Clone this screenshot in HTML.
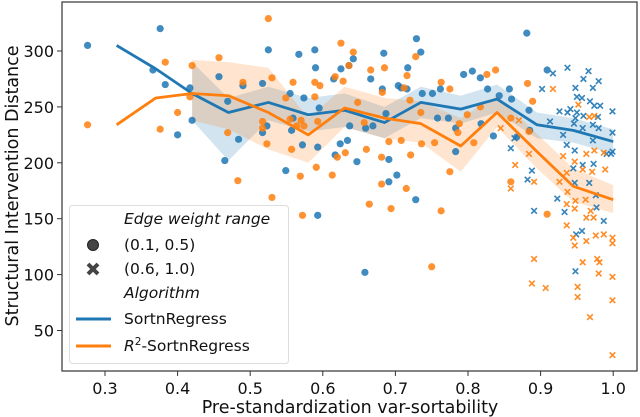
<!DOCTYPE html>
<html><head><meta charset="utf-8"><style>
body{margin:0;background:#fff;}
svg{display:block;font-family:"DejaVu Sans","Liberation Sans",sans-serif;}
</style></head><body>
<svg id="chart" width="640" height="417" viewBox="0 0 640 417">
<g id="bands"></g>
<g id="pts"></g>
<g id="lines"></g>
<rect x="62" y="2" width="575" height="369" fill="none" stroke="#333" stroke-width="1.2"/>
<g id="axes"></g>
<text x="350" y="413" font-size="17.5" text-anchor="middle" fill="#111">Pre-standardization var-sortability</text>
<text transform="translate(18,186) rotate(-90)" font-size="17.5" text-anchor="middle" fill="#111">Structural Intervention Distance</text>
<g>
<rect x="69.5" y="205.5" width="219" height="158" rx="3" fill="#fff" fill-opacity="0.8" stroke="#ddd"/>
<text x="124" y="224" font-size="15.5" font-style="italic" fill="#111">Edge weight range</text>
<circle cx="93" cy="245" r="5.5" fill="#444" stroke="#222"/>
<text x="124" y="250" font-size="15.5" fill="#111">(0.1, 0.5)</text>
<path d="M88,264 L98,274 M98,264 L88,274" stroke="#444" stroke-width="4"/>
<text x="124" y="274" font-size="15.5" fill="#111">(0.6, 1.0)</text>
<text x="124" y="298" font-size="15.5" font-style="italic" fill="#111">Algorithm</text>
<line x1="76" y1="319" x2="111" y2="319" stroke="#1f77b4" stroke-width="3"/>
<text x="124" y="324" font-size="15.5" fill="#111">SortnRegress</text>
<line x1="76" y1="346" x2="111" y2="346" stroke="#ff7f0e" stroke-width="3"/>
<text x="124" y="351" font-size="15.5" fill="#111"><tspan font-style="italic">R</tspan><tspan dy="-6" font-size="10.5">2</tspan><tspan dy="6">-SortnRegress</tspan></text>
</g>
</svg>
<script>
const xTicks=[0.3,0.4,0.5,0.6,0.7,0.8,0.9,1.0];
const xTickLabels=["0.3","0.4","0.5","0.6","0.7","0.8","0.9","1.0"];
const yTicks=[50,100,150,200,250,300];
const binX=[0.316,0.37,0.42,0.47,0.525,0.58,0.63,0.685,0.735,0.79,0.84,0.895,0.945,1.0];
const blueMean=[305,284,262,245,254,243,247,236,254,248,257,234,229,219];
const orangeMean=[234,258,262,260,245,225,249,240,235,215,245,210,179,167];
const blueLo=[null,null,238,202,238,228,232,222,240,235,245,222,218,208];
const blueHi=[null,null,290,258,268,258,262,250,268,260,270,245,240,230];
const orangeLo=[null,null,238,230,212,200,232,222,218,192,232,195,165,155];
const orangeHi=[null,null,292,290,285,240,268,258,255,240,260,226,195,180];
const blueCircX=[0.276,0.376,0.366,0.383,0.40,0.417,0.42,0.457,0.465,0.469,0.484,0.49,0.517,0.525,0.523,0.517,0.549,0.555,0.557,0.559,0.567,0.574,0.572,0.589,0.59,0.593,0.593,0.881,0.729,0.735,0.684,0.642,0.636,0.625,0.717,0.615,0.666,0.704,0.708,0.716,0.682,0.737,0.751,0.762,0.794,0.806,0.817,0.827,0.843,0.857,0.86,0.909,0.884,0.595,0.687,0.637,0.659,0.669,0.758,0.773,0.783,0.818,0.835,0.634,0.624,0.617,0.647,0.691,0.691,0.702,0.728,0.658,0.783,0.885,0.867];
const blueCircY=[305,320,283,270,225,267,238,277,202,255,221,269,271,301,233,227,193,262,229,240,297,258,216,301,285,153,214,316,311,299,298,293,287,284,285,275,275,269,267,266,266,262,262,266,279,282,276,266,260,266,257,283,247,249,244,233,231,233,240,240,231,235,224,220,217,207,201,203,183,189,167,102,210,229,223];
const orangeCircX=[0.276,0.383,0.376,0.40,0.42,0.417,0.457,0.469,0.49,0.483,0.525,0.53,0.517,0.517,0.523,0.53,0.549,0.555,0.557,0.559,0.569,0.57,0.564,0.574,0.572,0.589,0.589,0.591,0.596,0.625,0.642,0.636,0.666,0.685,0.716,0.728,0.617,0.628,0.682,0.712,0.72,0.735,0.763,0.775,0.826,0.838,0.817,0.799,0.788,0.786,0.808,0.775,0.754,0.736,0.721,0.708,0.691,0.681,0.681,0.694,0.715,0.664,0.66,0.631,0.62,0.613,0.593,0.648,0.657,0.763,0.75,0.882,0.889,0.859,0.859,0.909,0.884];
const orangeCircY=[234,290,230,245,287,259,294,227,272,184,329,276,237,231,217,169,258,239,212,272,188,238,233,233,153,272,259,196,269,307,299,287,283,285,278,295,277,273,263,267,256,245,272,266,279,283,250,243,235,227,218,192,218,217,207,220,219,205,181,159,177,163,212,209,205,189,237,254,236,157,107,271,255,240,183,154,228];
const blueCrossX=[0.917,0.937,0.902,0.966,0.959,0.98,0.948,0.972,0.95,0.957,0.968,0.974,0.982,0.926,0.937,0.941,0.95,0.959,0.948,0.979,0.999,0.913,0.946,0.958,0.972,0.98,0.931,0.972,0.999,0.936,0.947,0.991,0.999,0.997,0.945,0.958,0.973,0.864,0.859,0.888,0.882,0.923,0.933,0.967,0.976,0.977,0.987,0.957,0.949,0.891,0.948,0.947];
const blueCrossY=[280,285,266,282,275,273,267,267,259,258,255,251,251,246,245,248,245,242,240,241,246,237,235,231,234,231,225,220,227,216,211,208,210,208,195,198,199,222,213,193,185,168,156,182,171,160,148,139,136,157,103,182];
const orangeCrossX=[0.917,0.952,0.967,0.974,0.845,0.87,0.884,0.891,0.865,0.859,0.931,0.947,0.963,0.974,0.987,0.936,0.958,0.971,0.989,0.926,0.937,0.948,0.962,0.936,0.947,0.969,0.936,0.963,0.973,0.945,0.947,0.963,0.976,0.987,0.999,0.999,0.891,0.888,0.907,0.958,0.978,0.981,0.98,0.951,0.951,0.968,0.999,0.999,0.999];
const orangeCrossY=[266,252,241,242,231,238,208,183,198,177,206,201,208,211,209,191,194,192,194,183,174,166,167,163,159,157,144,151,151,133,126,130,135,136,133,128,114,92,88,111,114,111,101,89,80,62,98,77,28];

const NS='http://www.w3.org/2000/svg';
const X0=105,XS=726,Y0=51,YS=55.9/50;
function sx(v){return X0+(v-0.3)*XS;}
function sy(v){return Y0+(300-v)*YS;}
function mk(tag,attrs,parent){const e=document.createElementNS(NS,tag);for(const k in attrs)e.setAttribute(k,attrs[k]);parent.appendChild(e);return e;}
const BLUE='#1f77b4',ORANGE='#ff7f0e';
const axes=document.getElementById('axes');
xTicks.forEach((t,i)=>{
  const l=mk('line',{x1:sx(t),x2:sx(t),y1:371,y2:376,stroke:'#333'},axes);
  
  
  const tx=mk('text',{x:sx(t),y:394,'font-size':16,'text-anchor':'middle',fill:'#111'},axes);
  tx.textContent=xTickLabels[i];
  
  
});
yTicks.forEach(t=>{
  const l=mk('line',{x1:57,x2:62,y1:sy(t),y2:sy(t),stroke:'#333'},axes);
  
  
  const tx=mk('text',{x:54,y:sy(t)+6,'font-size':16,'text-anchor':'end',fill:'#111'},axes);
  tx.textContent=String(t);
  
  
});
const bands=document.getElementById('bands');
function band(lo,hi,col,name){
  const up=[],dn=[];
  binX.forEach((x,i)=>{if(lo[i]!=null){up.push(sx(x)+','+sy(hi[i]));dn.unshift(sx(x)+','+sy(lo[i]));}});
  const p=mk('polygon',{points:up.concat(dn).join(' '),fill:col,'fill-opacity':0.2},bands);
  
  
}
band(blueLo,blueHi,BLUE,'band-sortnregress');
band(orangeLo,orangeHi,ORANGE,'band-r2-sortnregress');
const pts=document.getElementById('pts');
function circles(xs,ys,col,name){xs.forEach((x,i)=>{
  const c=mk('circle',{cx:sx(x),cy:sy(ys[i]),r:3.6,fill:col,'fill-opacity':0.85},pts);
  
  
});}
function crosses(xs,ys,col,name){xs.forEach((x,i)=>{
  const cx=sx(x),cy=sy(ys[i]),d=2.8;
  const p=mk('path',{d:`M${cx-d},${cy-d}L${cx+d},${cy+d}M${cx+d},${cy-d}L${cx-d},${cy+d}`,stroke:col,'stroke-width':1.6,'stroke-opacity':0.9},pts);
  
  
});}
circles(blueCircX,blueCircY,BLUE,'point-sortnregress-low');
circles(orangeCircX,orangeCircY,ORANGE,'point-r2-low');
crosses(blueCrossX,blueCrossY,BLUE,'point-sortnregress-high');
crosses(orangeCrossX,orangeCrossY,ORANGE,'point-r2-high');
const lines=document.getElementById('lines');
function line(ys,col,name){
  const p=mk('polyline',{points:binX.map((x,i)=>sx(x)+','+sy(ys[i])).join(' '),fill:'none',stroke:col,'stroke-width':2.8,'stroke-linejoin':'round'},lines);
  
  
}
line(blueMean,BLUE,'line-sortnregress');
line(orangeMean,ORANGE,'line-r2-sortnregress');
</script>
</body></html>
